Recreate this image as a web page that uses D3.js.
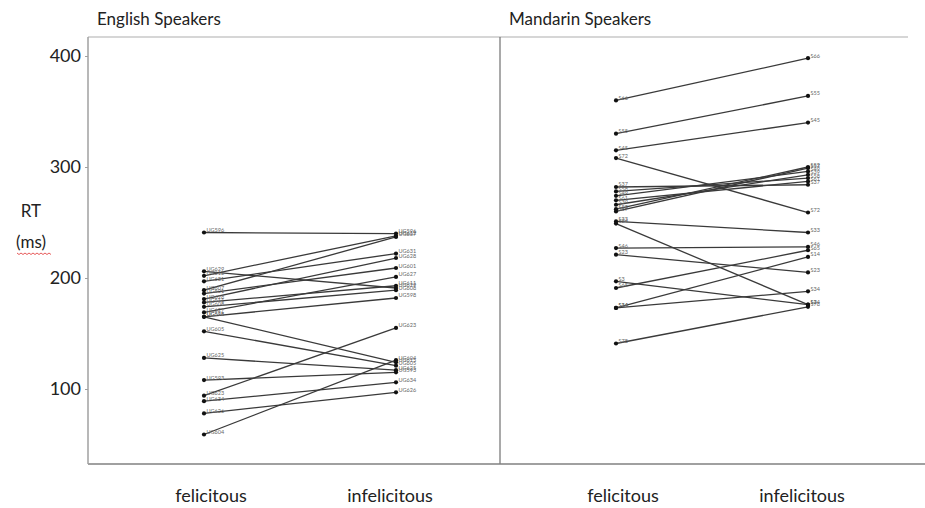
<!DOCTYPE html>
<html>
<head>
<meta charset="utf-8">
<script src="https://cdn.jsdelivr.net/npm/d3@7"></script>
<style>
  body { margin: 0; background: #fff; }
  text { font-family: Lato, "Open Sans", sans-serif; }
</style>
</head>
<body>
<div id="chart"></div>
<script>
const groups = ["English Speakers", "Mandarin Speakers"];
const conditions = ["felicitous", "infelicitous"];
const yTicks = [100, 200, 300, 400];

// English speakers: id, felicitous RT, infelicitous RT
const engIds = ["UG596", "UG629", "UG612", "UG631", "UG607", "UG601", "UG628", "UG611", "UG608", "UG627", "UG598", "UG615", "UG605", "UG625", "UG593", "UG623", "UG634", "UG626", "UG604"];
const engFel = [241, 206, 202, 197, 189, 186, 181, 178, 174, 169, 165, 165, 152, 128, 108, 94, 89, 78, 59];
const engInf = [240, 191, 238, 222, 237, 209, 218, 193, 189, 201, 182, 124, 121, 117, 115, 155, 106, 97, 126];

// Mandarin speakers
const manIds = ["S66", "S55", "S45", "S72", "S37", "S58", "S49", "S61", "S39", "S52", "S57", "S33", "S24", "S46", "S23", "S3", "S65", "S14", "S34", "S78"];
const manFel = [360, 330, 315, 308, 282, 278, 274, 270, 266, 262, 260, 251, 249, 227, 221, 197, 191, 173, 173, 141];
const manInf = [398, 364, 340, 259, 284, 290, 296, 287, 293, 300, 299, 241, 176, 228, 205, 176, 225, 219, 188, 174];

const data = [
  {group: groups[0], ids: engIds, fel: engFel, inf: engInf},
  {group: groups[1], ids: manIds, fel: manFel, inf: manInf}
];

const width = 925, height = 508;
const plotTop = 37, plotBottom = 464, plotLeft = 88;

const svg = d3.select("#chart").append("svg")
    .attr("width", width)
    .attr("height", height);

const y = d3.scaleLinear().domain([100, 400]).range([389, 56]);

const xPanel = d3.scaleBand().domain(groups).range([plotLeft, 912]);
const x = d3.scalePoint().domain(conditions).range([116, 308]);

// frame
svg.append("line")
    .attr("x1", plotLeft).attr("x2", 908).attr("y1", plotTop).attr("y2", plotTop)
    .attr("stroke", "#c8c8c8").attr("stroke-width", 1.5);
svg.append("line")
    .attr("x1", xPanel(groups[1])).attr("x2", xPanel(groups[1]))
    .attr("y1", plotTop).attr("y2", plotBottom)
    .attr("stroke", "#707070").attr("stroke-width", 1.2);
svg.append("line")
    .attr("x1", plotLeft).attr("x2", width).attr("y1", plotBottom).attr("y2", plotBottom)
    .attr("stroke", "#808080").attr("stroke-width", 1.5);

// y axis
const yAxis = svg.append("g")
    .attr("transform", "translate(" + plotLeft + ",0)")
    .call(d3.axisLeft(y).tickValues(yTicks).tickSize(3).tickPadding(4));
yAxis.select(".domain").remove();
yAxis.append("line")
    .attr("y1", plotTop).attr("y2", plotBottom)
    .attr("stroke", "#a0a0a0").attr("stroke-width", 1.5);
yAxis.selectAll(".tick line").attr("stroke", "#a0a0a0");
yAxis.selectAll(".tick text")
    .attr("font-size", 18)
    .attr("fill", "#222")
    .style("font-family", "Lato, sans-serif");

// axis title
svg.append("text").attr("x", 31).attr("y", 217)
    .attr("text-anchor", "middle").attr("font-size", 17).attr("fill", "#222")
    .text("RT");
svg.append("text").attr("x", 31).attr("y", 248)
    .attr("text-anchor", "middle").attr("font-size", 17).attr("fill", "#222")
    .text("(ms)");
// spell-check squiggle under "ms"
const squig = d3.range(17, 52, 2).map((px, i) => [px, 253 + (i % 2 ? 1.5 : 0)]);
svg.append("path")
    .attr("d", d3.line()(squig))
    .attr("fill", "none").attr("stroke", "#e03030").attr("stroke-width", 0.8);

// panels
const panel = svg.selectAll(".panel")
    .data(data)
    .join("g")
    .attr("class", "panel")
    .attr("transform", d => "translate(" + xPanel(d.group) + ",0)");

panel.append("text")
    .attr("x", 9).attr("y", 25)
    .attr("font-size", 17).attr("fill", "#222")
    .text(d => d.group);

panel.selectAll(".cond")
    .data(conditions)
    .join("text")
    .attr("class", "cond")
    .attr("x", (c, i) => x(c) + (i === 0 ? 7 : -6))
    .attr("y", 502)
    .attr("text-anchor", "middle")
    .attr("font-size", 18).attr("fill", "#222")
    .text(c => c);

const subj = panel.selectAll(".subj")
    .data(d => d.ids.map((id, i) => ({id: id, fel: d.fel[i], inf: d.inf[i]})))
    .join("g")
    .attr("class", "subj");

subj.append("line")
    .attr("x1", x("felicitous")).attr("y1", d => y(d.fel))
    .attr("x2", x("infelicitous")).attr("y2", d => y(d.inf))
    .attr("stroke", "#3a3a3a").attr("stroke-width", 1.3);

subj.append("circle")
    .attr("cx", x("felicitous")).attr("cy", d => y(d.fel))
    .attr("r", 2.1).attr("fill", "#111");
subj.append("circle")
    .attr("cx", x("infelicitous")).attr("cy", d => y(d.inf))
    .attr("r", 2.1).attr("fill", "#111");

subj.append("text")
    .attr("x", x("felicitous") + 2.5).attr("y", d => y(d.fel) - 0.5)
    .attr("font-size", 5.5).attr("fill", "#666")
    .text(d => d.id);
subj.append("text")
    .attr("x", x("infelicitous") + 2.5).attr("y", d => y(d.inf) - 0.5)
    .attr("font-size", 5.5).attr("fill", "#666")
    .text(d => d.id);
</script>
</body>
</html>
